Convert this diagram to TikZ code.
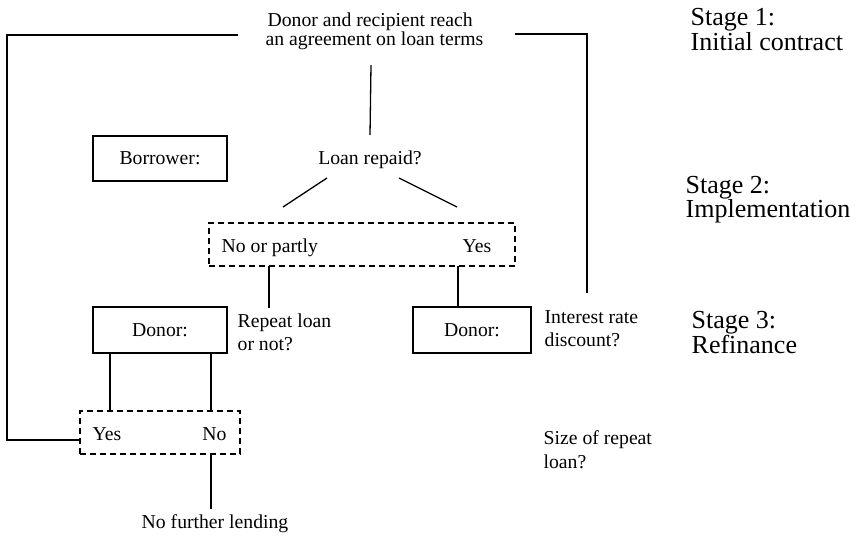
\documentclass[tikz,border=0pt]{standalone}
\usepackage{fontspec}
\setmainfont{Liberation Serif}
\begin{document}
\begin{tikzpicture}[x=1pt,y=-1pt,
  line width=1.3pt, line join=miter,
  txt/.style={inner sep=0pt, font=\fontsize{19.7}{21}\selectfont},
  stagetxt/.style={inner sep=0pt, anchor=base west, font=\fontsize{26}{26}\selectfont},
  solidbox/.style={draw, line width=1.3pt, inner sep=0pt, font=\fontsize{19.7}{21}\selectfont},
  dashbox/.style={draw, line width=1.2pt, dash pattern=on 6pt off 4pt, inner sep=0pt},
]
\useasboundingbox (0,0) rectangle (858,539);

% Stage labels
\node[stagetxt] (s1a) at (690,25) {Stage 1:};
\node[stagetxt] (s1b) at (690,50) {Initial contract};
\node[stagetxt] (s2a) at (685,193) {Stage 2:};
\node[stagetxt] (s2b) at (685,217) {Implementation};
\node[stagetxt] (s3a) at (691,328) {Stage 3:};
\node[stagetxt] (s3b) at (691,353) {Refinance};

% Stage 1: initial contract
\node[txt, anchor=base west] (agreeA) at (267,26) {Donor and recipient reach};
\node[txt, anchor=base west] (agreeB) at (265,45) {an agreement on loan terms};

% Stage 2: implementation
\node[solidbox, minimum width=134pt, minimum height=45pt] (borrower) at (160,158.5) {Borrower:};
\node[txt, anchor=base] (repaid) at (370,164) {Loan repaid?};
\node[dashbox, minimum width=306pt, minimum height=43pt] (repout) at (362,244.5) {};
\node[txt, anchor=base west] (nopart) at (221,252) {No or partly};
\node[txt, anchor=base east] (yesrep) at (492,252) {Yes};

% Stage 3: refinance
\node[solidbox, minimum width=134pt, minimum height=46pt] (donorL) at (160,330) {Donor:};
\node[txt, anchor=base west] (repA) at (237,327) {Repeat loan};
\node[txt, anchor=base west] (repB) at (237,350) {or not?};
\node[solidbox, minimum width=118pt, minimum height=46pt] (donorR) at (472,330) {Donor:};
\node[txt, anchor=base west] (intA) at (544,323) {Interest rate};
\node[txt, anchor=base west] (intB) at (544,346) {discount?};
\node[dashbox, minimum width=160pt, minimum height=43pt] (yesno) at (160,432.5) {};
\node[txt, anchor=base west] (yesL) at (92,440) {Yes};
\node[txt, anchor=base east] (noL) at (227,440) {No};
\node[txt, anchor=base west] (sizeA) at (543,444) {Size of repeat};
\node[txt, anchor=base west] (sizeB) at (543,468) {loan?};
\node[txt, anchor=base] (nofurther) at (215,528) {No further lending};

% connector end points
\coordinate (loopL) at (238,35);
\coordinate (loopB) at (7,440);
\coordinate (loopR) at (515,34);
\coordinate (loopRc) at (587,34);
\coordinate (loopRe) at (587,293);
\coordinate (agreeS) at (371,65);
\coordinate (repaidN) at (370,135);
\coordinate (diagLa) at (327,178);
\coordinate (diagLb) at (283,207);
\coordinate (diagRa) at (399,178);
\coordinate (diagRb) at (457,207);
\coordinate (npS) at (269,266);
\coordinate (npE) at (269,308);
\coordinate (ysS) at (458,266);

% connectors
\draw (loopL) -| (loopB) -- (loopB -| yesno.west);
\draw (loopR) -- (loopRc) -- (loopRe);
\draw (agreeS) -- (repaidN);
\draw (diagLa) -- (diagLb);
\draw (diagRa) -- (diagRb);
\draw (npS) -- (npE);
\draw (ysS) -- (ysS |- donorR.north);
\draw ([xshift=-50pt]donorL.south) -- ([xshift=-50pt]donorL.south |- yesno.north);
\draw ([xshift=51pt]donorL.south) -- ([xshift=51pt]donorL.south |- yesno.north);
\draw ([xshift=51pt]yesno.south) -- ([xshift=51pt,yshift=4pt]yesno.south |- nofurther.north);
\end{tikzpicture}
\end{document}
